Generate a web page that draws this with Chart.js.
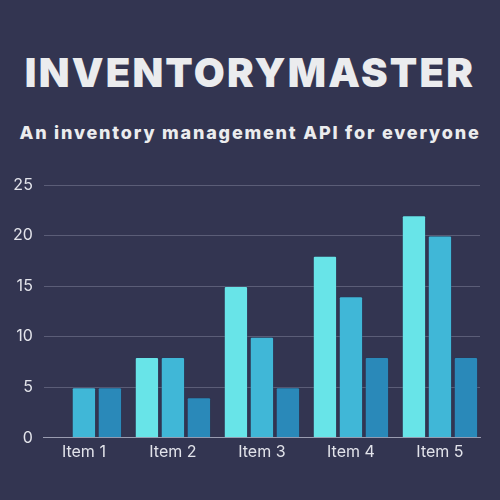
<!DOCTYPE html>
<html>
<head>
<meta charset="utf-8">
<script src="https://cdn.jsdelivr.net/npm/chart.js@4"></script>
<style>
  html, body { margin: 0; padding: 0; }
  body { width: 500px; height: 500px; background: #333551; position: relative; overflow: hidden; font-family: Inter, sans-serif; }
  h1 { position: absolute; top: 48px; left: 0; width: 500px; margin: 0; text-align: center; color: #ebecee;
       font: 900 40px Inter, sans-serif; letter-spacing: 2.2px; line-height: 50px; }
  h2 { position: absolute; top: 121px; left: 0; width: 500px; margin: 0; text-align: center; color: #ebecee;
       font: 800 18px Inter, sans-serif; letter-spacing: 1.8px; line-height: 24px; }
  #wrap { position: absolute; left: 0; top: 0; width: 500px; height: 500px; }
</style>
</head>
<body>
<h1>INVENTORYMASTER</h1>
<h2>An inventory management API for everyone</h2>
<div id="wrap"><canvas id="chart"></canvas></div>
<script>
const items = ['Item 1', 'Item 2', 'Item 3', 'Item 4', 'Item 5'];
const seriesA = [0, 8, 15, 18, 22];
const seriesB = [5, 8, 10, 14, 20];
const seriesC = [5, 4, 5, 8, 8];
const yTicks = [0, 5, 10, 15, 20, 25];

const colors = {
    a: '#68e4e8',
    b: '#40b7d7',
    c: '#2a89b9'
};

// x is a linear index axis so the groups sit a bit inside the grid ends
function mkSet(label, data, color) {
    return {
        label: label,
        data: data.map((v, i) => ({ x: i, y: v })),
        backgroundColor: color,
        borderColor: 'rgba(30,60,90,0.25)',
        borderWidth: 1,
        borderRadius: 2,
        borderSkipped: 'bottom',
        categoryPercentage: 0.876,
        barPercentage: 0.935
    };
}

new Chart(document.getElementById('chart'), {
    type: 'bar',
    data: {
        datasets: [
            mkSet('A', seriesA, colors.a),
            mkSet('B', seriesB, colors.b),
            mkSet('C', seriesC, colors.c)
        ]
    },
    options: {
        responsive: true,
        maintainAspectRatio: false,
        animation: false,
        layout: { padding: { top: 185, left: 2, right: 20, bottom: 41 } },
        plugins: { legend: { display: false }, tooltip: { enabled: false } },
        scales: {
            x: {
                type: 'linear',
                offset: false,
                min: -0.45,
                max: items.length - 0.55,
                afterBuildTicks: (axis) => { axis.ticks = items.map((t, i) => ({ value: i })); },
                grid: { display: false, offset: false },
                border: { color: '#9a9cb0', width: 1 },
                ticks: {
                    color: '#e2e3ea', font: { family: 'Inter', size: 16 }, padding: -3,
                    callback: (v) => items[v]
                }
            },
            y: {
                min: 0,
                max: 25,
                afterBuildTicks: (axis) => { axis.ticks = yTicks.map(v => ({ value: v })); },
                grid: { color: '#5b5d77', lineWidth: 1, drawTicks: false },
                border: { display: false },
                ticks: { color: '#e2e3ea', font: { family: 'Inter', size: 16 }, padding: 11 }
            }
        }
    }
});
</script>
</body>
</html>
